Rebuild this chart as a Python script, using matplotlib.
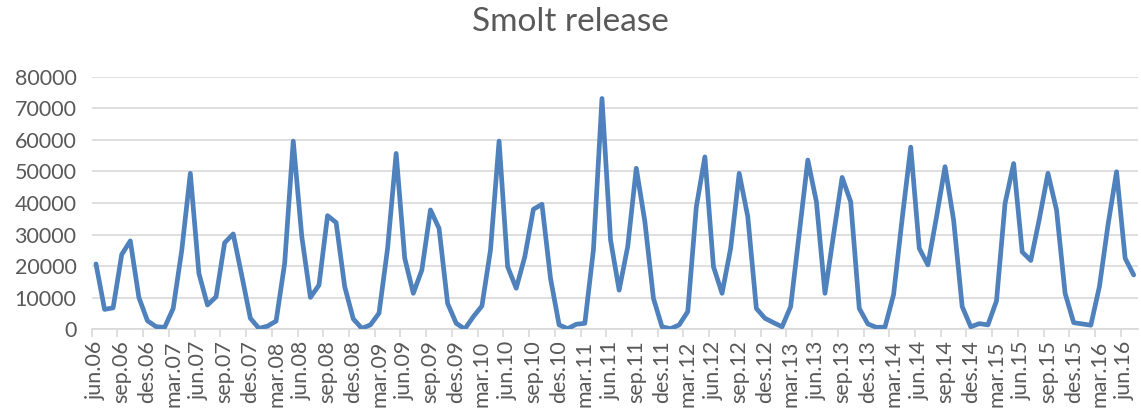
import matplotlib
matplotlib.use("Agg")
import matplotlib.pyplot as plt

plt.rcParams['font.family'] = ['Lato', 'DejaVu Sans']

month_names = ["jan", "feb", "mar", "apr", "mai", "jun", "jul", "aug", "sep", "okt", "nov", "des"]
categories = []
m, y = 5, 6  # start jun.06
for _ in range(122):
    categories.append(f"{month_names[m]}.{y:02d}")
    m += 1
    if m == 12:
        m, y = 0, y + 1

smolt_release = [
    20700, 6300, 6800, 23700, 28000, 10100, 2700, 850, 600, 6600,
    25000, 49400, 17700, 7700, 10300, 27400, 30200, 17000, 3500, 300,
    1000, 2600, 20900, 59600, 29300, 10100, 14000, 36000, 33800, 13500,
    3300, 300, 1400, 5100, 25600, 55700, 22500, 11400, 18800, 37800,
    32000, 8200, 1900, 100, 4000, 7400, 25100, 59600, 19800, 13000,
    23000, 38000, 39600, 16100, 1400, 200, 1600, 1900, 25100, 73100,
    28300, 12400, 26200, 51000, 34100, 9800, 800, 200, 1400, 5600,
    38800, 54600, 19800, 11400, 25600, 49400, 35700, 6600, 3500, 2100,
    800, 7200, 30400, 53600, 40400, 11400, 29900, 48100, 40400, 6600,
    1700, 600, 700, 11000, 35000, 57700, 25600, 20400, 35500, 51500,
    34600, 7200, 800, 1800, 1400, 9000, 39900, 52500, 24500, 21800,
    35000, 49400, 37800, 11400, 2100, 1700, 1300, 13500, 33000, 49900,
    22500, 17200,
]
y_ticks = [0, 10000, 20000, 30000, 40000, 50000, 60000, 70000, 80000]
title = "Smolt release"

fig = plt.figure(figsize=(11.41, 4.16), dpi=100)
ax = fig.add_axes([91.7/1141, 1 - 329.3/416, (1138 - 91.7)/1141, (329.3 - 76.7)/416])

x = list(range(len(smolt_release)))
ax.plot(x, smolt_release, color="#4F81BD", lw=3.4, solid_joinstyle="round", solid_capstyle="round", zorder=3)

ax.set_ylim(0, 80000)
ax.set_xlim(-0.5, len(smolt_release) - 0.5)
ax.set_yticks(y_ticks)
ax.set_yticklabels([str(v) for v in y_ticks])
ax.grid(axis="y", color="#D9D9D9", lw=1.2)
ax.set_axisbelow(True)

# tick marks between categories every 3, labels on categories every 3
ax.set_xticks([i - 0.5 for i in range(0, len(smolt_release), 3)])
ax.set_xticklabels([])
ax.set_xticks(list(range(0, len(smolt_release), 3)), minor=True)
ax.set_xticklabels([categories[i] for i in range(0, len(smolt_release), 3)], minor=True, rotation=90)
ax.tick_params(axis="x", which="major", length=6, width=1.2, color="#D9D9D9")
ax.tick_params(axis="x", which="minor", length=0, pad=8, labelsize=15.5, labelcolor="#595959")
ax.tick_params(axis="y", length=0, pad=11, labelsize=15.5, labelcolor="#595959")

for s in ["top", "right", "left"]:
    ax.spines[s].set_visible(False)
ax.spines["bottom"].set_color("#D9D9D9")
ax.spines["bottom"].set_linewidth(1.2)

fig.text(0.5, 1 - 22/416, title, ha="center", va="center", fontsize=24, color="#595959", fontweight="normal")

fig.savefig("out.png", dpi=100)
